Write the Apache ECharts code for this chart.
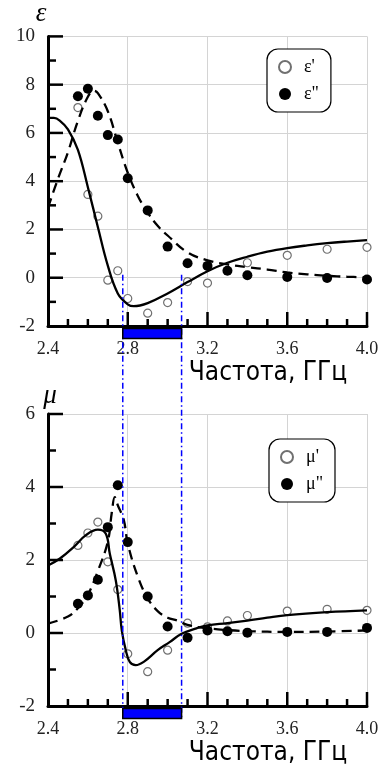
<!DOCTYPE html>
<html>
<head>
<meta charset="utf-8">
<script src="https://cdn.jsdelivr.net/npm/echarts@6/dist/echarts.min.js"></script>
<style>
  html, body { margin: 0; padding: 0; background: #fff; }
  #container { width: 385px; height: 773px; }
</style>
</head>
<body>
<div id="container"></div>
<script>
// частота, ГГц
var xTicks = [2.4, 2.8, 3.2, 3.6, 4.0];
var xMinorStep = 0.1;
var band = [2.775, 3.07]; // синяя полоса

// eps' / eps'' — точки (эксперимент)
var epsFreq = [2.55, 2.6, 2.65, 2.7, 2.75, 2.8, 2.9, 3.0, 3.1, 3.2, 3.3, 3.4, 3.6, 3.8, 4.0];
var eps1Pts = [7.05, 3.45, 2.55, -0.1, 0.29, -0.86, -1.47, -1.03, -0.16, -0.22, null, 0.62, 0.93, 1.18, 1.26];
var eps2Pts = [7.52, 7.83, 6.71, 5.91, 5.73, 4.12, 2.79, 1.29, 0.60, 0.49, 0.29, 0.10, 0.03, -0.01, -0.07];

// eps' — расчёт (сплошная)
var eps1LineF = [2.4, 2.43, 2.46, 2.5, 2.55, 2.6, 2.65, 2.7, 2.75, 2.8, 2.83, 2.9, 3.0, 3.1, 3.2, 3.3, 3.4, 3.5, 3.6, 3.7, 3.8, 3.9, 4.0];
var eps1Line = [6.62, 6.62, 6.5, 6.15, 5.3, 3.75, 2.1, 0.5, -0.65, -1.1, -1.18, -1.05, -0.65, -0.18, 0.27, 0.62, 0.87, 1.08, 1.23, 1.34, 1.43, 1.5, 1.56];
// eps'' — расчёт (штрих)
var eps2LineF = [2.4, 2.45, 2.5, 2.55, 2.6, 2.63, 2.65, 2.7, 2.75, 2.8, 2.85, 2.9, 2.95, 3.0, 3.1, 3.2, 3.3, 3.4, 3.5, 3.6, 3.7, 3.8, 3.9, 4.0];
var eps2Line = [2.9, 4.1, 5.2, 6.5, 7.5, 7.75, 7.65, 6.9, 5.6, 4.35, 3.4, 2.7, 2.15, 1.75, 1.05, 0.72, 0.55, 0.44, 0.34, 0.22, 0.14, 0.08, 0.04, 0.02];

// mu' / mu'' — точки
var muFreq = [2.55, 2.6, 2.65, 2.7, 2.75, 2.8, 2.9, 3.0, 3.1, 3.2, 3.3, 3.4, 3.6, 3.8, 4.0];
var mu1Pts = [2.40, 2.74, 3.04, 1.95, 1.19, -0.57, -1.06, -0.47, 0.27, 0.17, 0.33, 0.48, 0.60, 0.65, 0.62];
var mu2Pts = [0.80, 1.03, 1.46, 2.90, 4.05, 2.49, 1.0, 0.18, -0.13, 0.07, 0.05, 0.01, 0.03, 0.03, 0.14];

// mu' — расчёт
var mu1LineF = [2.4, 2.46, 2.53, 2.59, 2.65, 2.69, 2.71, 2.74, 2.76, 2.77, 2.79, 2.81, 2.84, 2.88, 2.95, 3.01, 3.07, 3.14, 3.2, 3.3, 3.4, 3.5, 3.6, 3.8, 4.0];
var mu1Line = [1.85, 2.04, 2.36, 2.68, 2.83, 2.72, 2.17, 1.44, 0.62, 0.07, -0.47, -0.79, -0.88, -0.79, -0.47, -0.25, -0.02, 0.12, 0.21, 0.27, 0.34, 0.42, 0.49, 0.57, 0.62];
// mu'' — расчёт
var mu2LineF = [2.4, 2.5, 2.55, 2.6, 2.65, 2.7, 2.72, 2.735, 2.75, 2.78, 2.8, 2.85, 2.9, 2.95, 3.0, 3.05, 3.1, 3.2, 3.3, 3.4, 3.6, 3.8, 4.0];
var mu2Line = [0.26, 0.45, 0.68, 1.05, 1.7, 2.5, 3.3, 3.72, 3.5, 3.1, 2.45, 1.55, 0.95, 0.6, 0.42, 0.34, 0.22, 0.13, 0.08, 0.05, 0.03, 0.04, 0.07];

var zip = function(xs, ys) {
    var out = [];
    for (var i = 0; i < xs.length; i++) {
        if (ys[i] !== null) out.push([xs[i], ys[i]]);
    }
    return out;
};

var times = '"Times New Roman", "Liberation Serif", Times, serif';
var narrow = '"Liberation Sans Narrow", "DejaVu Sans Condensed", sans-serif';
var xAxisCfg = function(idx) {
    return {
        type: 'value', gridIndex: idx,
        min: xTicks[0], max: xTicks[xTicks.length - 1], interval: 0.4,
        name: 'Частота, ГГц', nameLocation: 'middle', nameGap: 34,
        nameTextStyle: { fontFamily: narrow, fontSize: 26, color: '#000', padding: [0, 0, 0, 121] },
        axisLine: { show: true, onZero: false, lineStyle: { color: '#000', width: 3 } },
        axisTick: { show: false },
        axisLabel: { margin: 14, fontFamily: times, fontSize: 18, color: '#222',
            formatter: function(v) { return v.toFixed(1); } },
        splitLine: { show: true, lineStyle: { color: '#d4d4d4', width: 1 } }
    };
};
var yAxisCfg = function(idx, min, max, name, pad) {
    return {
        type: 'value', gridIndex: idx, min: min, max: max, interval: 2,
        name: name, nameLocation: 'end', nameGap: 5,
        nameTextStyle: { fontFamily: times, fontStyle: 'italic', fontSize: 27, color: '#000', padding: pad },
        axisLine: { show: true, onZero: false, lineStyle: { color: '#000', width: 3 } },
        axisTick: { show: false },
        axisLabel: { margin: 13, fontFamily: times, fontSize: 19, color: '#222' },
        splitLine: { show: true, lineStyle: { color: '#d4d4d4', width: 1 } }
    };
};
var openDot = function(name, idx, data) {
    return { name: name, type: 'scatter', xAxisIndex: idx, yAxisIndex: idx, data: data,
        symbol: 'circle', symbolSize: 8, z: 2,
        itemStyle: { color: '#fff', borderColor: '#707070', borderWidth: 1.2, opacity: 1 } };
};
var fullDot = function(name, idx, data) {
    return { name: name, type: 'scatter', xAxisIndex: idx, yAxisIndex: idx, data: data,
        symbol: 'circle', symbolSize: 10, z: 2,
        itemStyle: { color: '#000', opacity: 1 } };
};
var curve = function(idx, data, dashed) {
    return { type: 'line', xAxisIndex: idx, yAxisIndex: idx, data: data, smooth: 0.4,
        showSymbol: false, z: 3, silent: true,
        lineStyle: { color: '#000', width: 2.3, type: dashed ? [10, 6] : 'solid' } };
};
var legendCfg = function(names, left, top) {
    return {
        data: names, orient: 'vertical', left: left, top: top, selectedMode: false,
        backgroundColor: '#fff', borderColor: '#000', borderWidth: 1.2, borderRadius: 11,
        padding: [9, 12, 9, 11], itemGap: 9, itemWidth: 12, itemHeight: 12,
        textStyle: { fontFamily: times, fontSize: 18, color: '#000', padding: [0, 0, 0, 8] }
    };
};

var dom = document.getElementById('container');
var myChart = echarts.init(dom);
var option = {
    animation: false,
    backgroundColor: '#fff',
    grid: [
        { left: 48, top: 34, width: 319, height: 292 },
        { left: 48, top: 414, width: 319, height: 292 }
    ],
    xAxis: [xAxisCfg(0), xAxisCfg(1)],
    yAxis: [yAxisCfg(0, -2, 10, 'ε', [0, 14, 0, 0]), yAxisCfg(1, -2, 6, 'μ', [0, 0, 0, 4])],
    legend: [legendCfg(["ε'", 'ε"'], 267, 49), legendCfg(["μ'", 'μ"'], 269, 439)],
    series: [
        openDot("ε'", 0, zip(epsFreq, eps1Pts)),
        fullDot('ε"', 0, zip(epsFreq, eps2Pts)),
        curve(0, zip(eps1LineF, eps1Line), false),
        curve(0, zip(eps2LineF, eps2Line), true),
        openDot("μ'", 1, zip(muFreq, mu1Pts)),
        fullDot('μ"', 1, zip(muFreq, mu2Pts)),
        curve(1, zip(mu1LineF, mu1Line), false),
        curve(1, zip(mu2LineF, mu2Line), true)
    ]
};
myChart.setOption(option);

// засечки на осях (внутрь), по шкалам осей
var tickLine = { stroke: '#000', lineWidth: 2.5 };
var graphics = [];
var addTicks = function(idx, yMin, yMax) {
    var y0 = myChart.convertToPixel({ yAxisIndex: idx }, yMin);
    var x0 = myChart.convertToPixel({ xAxisIndex: idx }, xTicks[0]);
    var n = Math.round((xTicks[xTicks.length - 1] - xTicks[0]) / xMinorStep);
    for (var i = 1; i <= n; i++) {
        var px = myChart.convertToPixel({ xAxisIndex: idx }, xTicks[0] + i * xMinorStep);
        var len = (i % 4 === 0) ? 14 : 7;
        graphics.push({ type: 'line', z: 5, shape: { x1: px, y1: y0, x2: px, y2: y0 - len }, style: tickLine });
    }
    for (var v = yMin + 1; v <= yMax; v++) {
        var py = myChart.convertToPixel({ yAxisIndex: idx }, v);
        var ylen = ((v - yMin) % 2 === 0) ? 15 : 8;
        graphics.push({ type: 'line', z: 5, shape: { x1: x0, y1: py, x2: x0 + ylen, y2: py }, style: tickLine });
    }
};
addTicks(0, -2, 10);
addTicks(1, -2, 6);

// синие штрихпунктирные линии и полосы под осями
var bx1 = myChart.convertToPixel({ xAxisIndex: 0 }, band[0]);
var bx2 = myChart.convertToPixel({ xAxisIndex: 0 }, band[1]);
var lineTop = myChart.convertToPixel({ yAxisIndex: 0 }, 0.12);
var axis0 = myChart.convertToPixel({ yAxisIndex: 0 }, -2);
var axis1 = myChart.convertToPixel({ yAxisIndex: 1 }, -2);
var dashDot = { stroke: '#0000ff', lineWidth: 1.5, lineDash: [6, 3, 1.5, 3] };
var barStyle = { fill: '#0000ff', stroke: '#000', lineWidth: 1.5 };
graphics.push(
    { type: 'line', z: 10, shape: { x1: bx1, y1: lineTop, x2: bx1, y2: axis1 + 13 }, style: dashDot },
    { type: 'line', z: 10, shape: { x1: bx2, y1: lineTop, x2: bx2, y2: axis1 + 13 }, style: dashDot },
    { type: 'rect', z: 11, shape: { x: bx1, y: axis0 + 2.5, width: bx2 - bx1, height: 10 }, style: barStyle },
    { type: 'rect', z: 11, shape: { x: bx1, y: axis1 + 2.5, width: bx2 - bx1, height: 10 }, style: barStyle }
);
myChart.setOption({ graphic: graphics });
</script>
</body>
</html>
